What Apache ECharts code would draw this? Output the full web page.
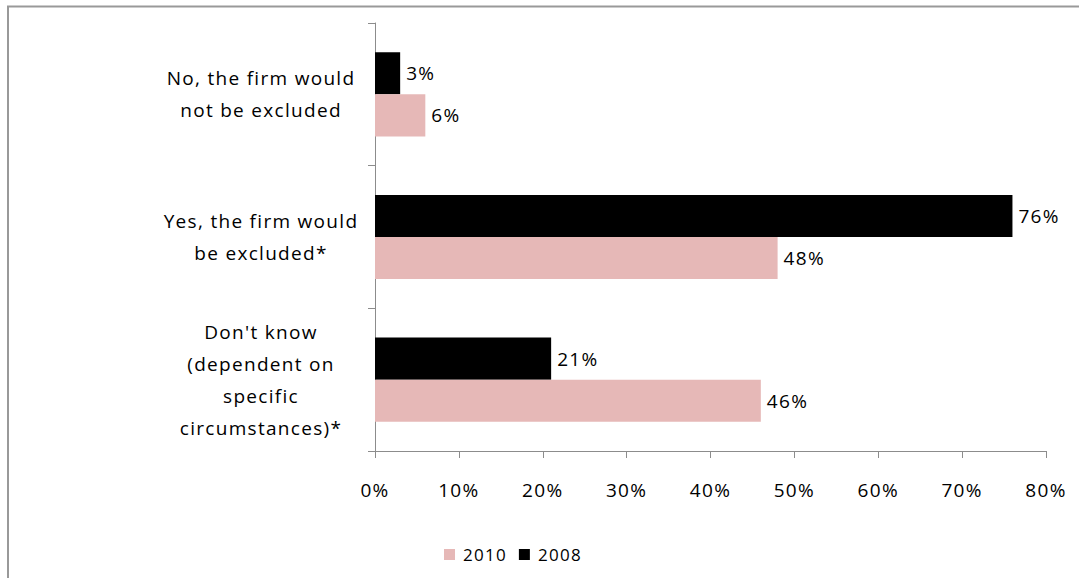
<!DOCTYPE html>
<html>
<head>
<meta charset="utf-8">
<script src="https://cdn.jsdelivr.net/npm/echarts@6/dist/echarts.min.js"></script>
<style>
  html, body { margin: 0; padding: 0; background: #fff; }
  #chart { width: 1079px; height: 578px; }
  /* slightly open letter spacing for all chart text */
  #chart svg text { letter-spacing: 1.3px; }
</style>
</head>
<body>
<div id="chart"></div>
<script>
// Survey answers, listed top to bottom
const categories = [
  'No, the firm would\nnot be excluded',
  'Yes, the firm would\nbe excluded*',
  "Don't know\n(dependent on\nspecific\ncircumstances)*"
];
const legendOrder = ['2010', '2008'];
const values2010 = [6, 48, 46];
const values2008 = [3, 76, 21];
const xTicks = [0, 10, 20, 30, 40, 50, 60, 70, 80];

const FONT = '"Open Sans", "Liberation Sans", sans-serif';
const colors = { '2010': '#E6B8B7', '2008': '#000000' };

const chart = echarts.init(document.getElementById('chart'), null, { renderer: 'svg' });

function barSeries(name, data) {
  return {
    name: name,
    type: 'bar',
    data: data,
    barGap: '0%',
    barCategoryGap: '41%',
    itemStyle: { color: colors[name] },
    label: {
      show: true,
      position: 'right',
      distance: 6,
      formatter: p => p.value + '%',
      fontFamily: FONT,
      fontSize: 19,
      color: '#000'
    }
  };
}

chart.setOption({
  animation: false,
  backgroundColor: '#fff',
  graphic: [{
    type: 'rect',
    shape: { x: 8, y: 6.5, width: 1100, height: 620 },
    style: { fill: 'none', stroke: '#999999', lineWidth: 2 },
    silent: true
  }],
  grid: { left: 375, right: 33, top: 23, bottom: 127, containLabel: false },
  legend: {
    data: legendOrder,
    top: 541,
    left: 439,
    itemWidth: 11,
    itemHeight: 11,
    itemGap: 17,
    icon: 'rect',
    textStyle: { fontFamily: FONT, fontSize: 17, color: '#000', padding: [0, 0, 0, 3] }
  },
  xAxis: {
    type: 'value',
    min: xTicks[0],
    max: xTicks[xTicks.length - 1],
    interval: 10,
    splitLine: { show: false },
    axisLine: { show: true, lineStyle: { color: '#8c8c8c', width: 1 } },
    axisTick: { show: true, length: 7, lineStyle: { color: '#8c8c8c' } },
    axisLabel: {
      formatter: v => v + '%',
      fontFamily: FONT,
      fontSize: 19,
      color: '#000',
      margin: 29
    }
  },
  yAxis: {
    type: 'category',
    data: categories,
    inverse: true,
    axisLine: { show: true, lineStyle: { color: '#8c8c8c', width: 1 } },
    axisTick: { show: true, length: 7, lineStyle: { color: '#8c8c8c' } },
    axisLabel: {
      align: 'center',
      margin: 114,
      fontFamily: FONT,
      fontSize: 19,
      lineHeight: 32,
      color: '#000'
    }
  },
  // 2008 drawn first so it sits above 2010 in each group
  series: [
    barSeries('2008', values2008),
    barSeries('2010', values2010)
  ]
});
</script>
</body>
</html>
